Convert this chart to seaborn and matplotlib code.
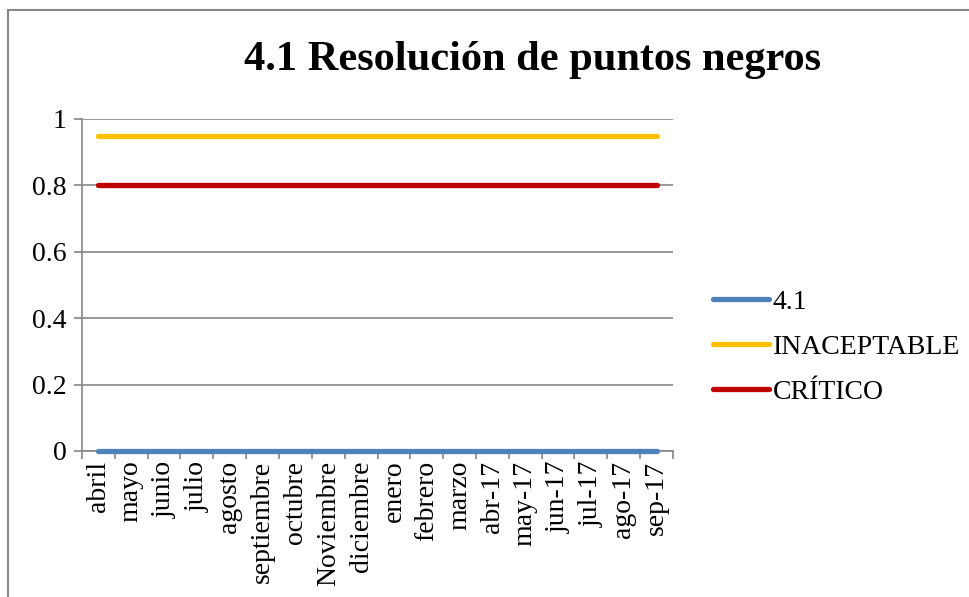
import matplotlib
matplotlib.use("Agg")
import matplotlib.pyplot as plt
from matplotlib.patches import Rectangle
import seaborn as sns
import pandas as pd
import numpy as np

categories = ["abril", "mayo", "junio", "julio", "agosto", "septiembre", "octubre",
              "Noviembre", "diciembre", "enero", "febrero", "marzo", "abr-17",
              "may-17", "jun-17", "jul-17", "ago-17", "sep-17"]
serie_41 = [0] * 18
serie_inaceptable = [0.95] * 18
serie_critico = [0.8] * 18
series_names = ["4.1", "INACEPTABLE", "CRÍTICO"]
y_ticks = [0, 0.2, 0.4, 0.6, 0.8, 1]
y_tick_labels = ["0", "0.2", "0.4", "0.6", "0.8", "1"]
title = "4.1 Resolución de puntos negros"

sns.set_theme(style="white")
plt.rcParams['font.family'] = ['Liberation Serif', 'DejaVu Serif']
plt.rcParams['text.color'] = 'black'
plt.rcParams['xtick.color'] = 'black'
plt.rcParams['ytick.color'] = 'black'

idx = list(range(len(categories)))
df = pd.DataFrame({
    "x": idx * 3,
    "value": serie_41 + serie_inaceptable + serie_critico,
    "serie": [series_names[0]] * 18 + [series_names[1]] * 18 + [series_names[2]] * 18,
})

fig = plt.figure(figsize=(9.7, 5.97), dpi=100)
ax = fig.add_axes([82 / 970, 1 - 451 / 597, (673 - 82) / 970, (451 - 119) / 597])

palette = {"4.1": "#4F81BD", "INACEPTABLE": "#FFC000", "CRÍTICO": "#C00000"}
sns.lineplot(data=df, x="x", y="value", hue="serie", palette=palette,
             linewidth=3.8, ax=ax, legend=True, zorder=3)
for l in ax.lines:
    l.set_solid_capstyle("round")
    l.set_clip_on(False)

ax.set_xlim(-0.5, len(categories) - 0.5)
ax.set_ylim(0, 1)
ax.set_yticks(y_ticks)
ax.set_yticklabels(y_tick_labels, fontsize=20, color="black")
ax.set_xticks(idx)
ax.set_xticklabels(categories, rotation=90, fontsize=20, va="top", color="black")
ax.set_xticks(np.arange(-0.5, len(categories), 1.0), minor=True)
ax.tick_params(axis="x", which="major", length=0, pad=7)
ax.tick_params(axis="x", which="minor", length=6, width=1.2, color="#868686", direction="out", bottom=True)
ax.tick_params(axis="y", which="major", length=6, width=1.2, color="#868686", direction="out", left=True, pad=5)
ax.set_xlabel("")
ax.set_ylabel("")
ax.grid(False)
ax.yaxis.grid(True, color="#868686", linewidth=1.2)
ax.set_axisbelow(True)
for s in ["top", "right"]:
    ax.spines[s].set_visible(False)
for s in ["left", "bottom"]:
    ax.spines[s].set_color("#868686")
    ax.spines[s].set_linewidth(1.2)

handles, labels = ax.get_legend_handles_labels()
ax.get_legend().remove()
leg = fig.legend(handles, labels, loc="center left", bbox_to_anchor=(713 / 970, 1 - 347 / 597),
                 frameon=False, fontsize=20, handlelength=2.0, handletextpad=0.15,
                 labelspacing=0.7, borderpad=0, borderaxespad=0)
for h in leg.legend_handles:
    h.set_linewidth(3.8)
    h.set_solid_capstyle("round")
for t in leg.get_texts():
    t.set_color("black")

fig.text(533 / 970, 1 - 60 / 597, title, ha="center", va="center",
         fontsize=30.5, fontweight="bold", color="black")

fig.patches.append(Rectangle((8.5 / 970, -0.1), 1.2, (1 - 9.5 / 597) + 0.1,
                             transform=fig.transFigure, fill=False,
                             edgecolor="#868686", linewidth=1.5))

fig.savefig("out.png", dpi=100)
